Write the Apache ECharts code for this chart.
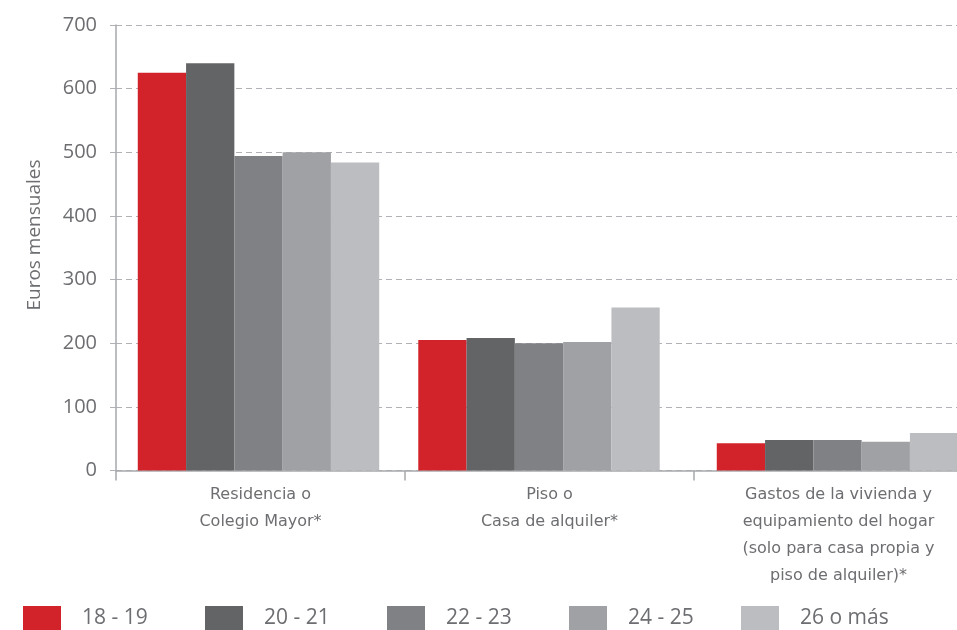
<!DOCTYPE html>
<html>
<head>
<meta charset="utf-8">
<script src="https://cdn.jsdelivr.net/npm/echarts@6/dist/echarts.min.js"></script>
<style>html,body{margin:0;padding:0;background:#fff;overflow:hidden}#c{width:990px;height:630px}</style>
</head>
<body>
<div id="c"></div>
<script>
const categories = ["Residencia o\nColegio Mayor*", "Piso o\nCasa de alquiler*", "Gastos de la vivienda y\nequipamiento del hogar\n(solo para casa propia y\npiso de alquiler)*"];
const seriesNames = ["18 - 19", "20 - 21", "22 - 23", "24 - 25", "26 o más"];
const v18_19 = [625, 205, 43];
const v20_21 = [640, 208, 48];
const v22_23 = [494, 200, 48];
const v24_25 = [500, 202, 45];
const v26mas = [484, 256, 59];
const yTicks = [0, 100, 200, 300, 400, 500, 600, 700];
const yAxisTitle = "Euros mensuales";

const colors = ["#d2232a", "#636466", "#808184", "#a0a1a4", "#bcbdc0"];
const legendLefts = [23, 205, 387, 569, 741];
const allValues = [v18_19, v20_21, v22_23, v24_25, v26mas];
const txt = "#6d6e71";
const axisGrey = '#a7a9ac';
const gridGrey = '#b0b2b5';

// The source places the middle group of bars slightly left of its category centre;
// it is drawn on its own (shifted) band grid.
const shiftedCategory = 1;

const barGrid = (left) => ({left: left, top: 25, bottom: 159.5, width: 868.5, containLabel: false});
const hiddenX = (g) => ({gridIndex: g, type: 'category', data: categories, show: false});
const hiddenY = (g) => ({gridIndex: g, type: 'value', min: 0, max: 700, interval: 100, show: false, splitLine: {show: false}});

const barSeries = [];
seriesNames.forEach((n, i) => {
  [0, 1].forEach(g => {
    barSeries.push({
      name: n, type: 'bar',
      xAxisIndex: g, yAxisIndex: g,
      data: allValues[i].map((v, j) => ((j === shiftedCategory) === (g === 1)) ? v : null),
      itemStyle: {color: colors[i]},
      barGap: '0%', barCategoryGap: '16.6%'
    });
  });
});

const chart = echarts.init(document.getElementById('c'), null, {renderer: 'canvas'});
chart.setOption({
  animation: false,
  textStyle: {fontFamily: "Open Sans"},
  grid: [
    barGrid(113.75),
    barGrid(104.75),
    {left: 116, top: 25, bottom: 159.5, width: 867, containLabel: false}
  ],
  legend: seriesNames.map((n, i) => ({
    left: legendLefts[i], top: 606,
    padding: 0,
    itemWidth: 38, itemHeight: 24,
    icon: 'rect',
    textStyle: {fontFamily: "Open Sans", fontSize: 21, color: txt, padding: [0, 0, 0, 16]},
    data: [n]
  })),
  graphic: [{
    type: 'text', x: 35, y: 235, rotation: Math.PI / 2,
    style: {text: yAxisTitle, font: '19px "Open Sans"', fill: txt, align: 'center', verticalAlign: 'middle'}
  }],
  xAxis: [
    hiddenX(0),
    hiddenX(1),
    {
      gridIndex: 2, type: 'category', data: categories,
      axisLine: {lineStyle: {color: axisGrey, width: 1.5}},
      axisTick: {show: true, length: 10, lineStyle: {color: axisGrey, width: 1.5}},
      axisLabel: {fontFamily: "DejaVu Sans", fontSize: 16, color: txt, lineHeight: 27, margin: 11, interval: 0}
    }
  ],
  yAxis: [
    hiddenY(0),
    hiddenY(1),
    {
      gridIndex: 2, type: 'value', min: 0, max: 700, interval: 100,
      axisLine: {show: true, lineStyle: {color: axisGrey, width: 1.5}},
      axisTick: {show: true, length: 9, lineStyle: {color: gridGrey, type: [6, 4]}},
      axisLabel: {fontFamily: "Open Sans", fontSize: 20, color: txt, margin: 19,
        formatter: v => yTicks.includes(v) ? String(v) : ''},
      splitLine: {show: true, lineStyle: {color: gridGrey, type: [6, 4], width: 1}}
    }
  ],
  series: barSeries
});
</script>
</body>
</html>
